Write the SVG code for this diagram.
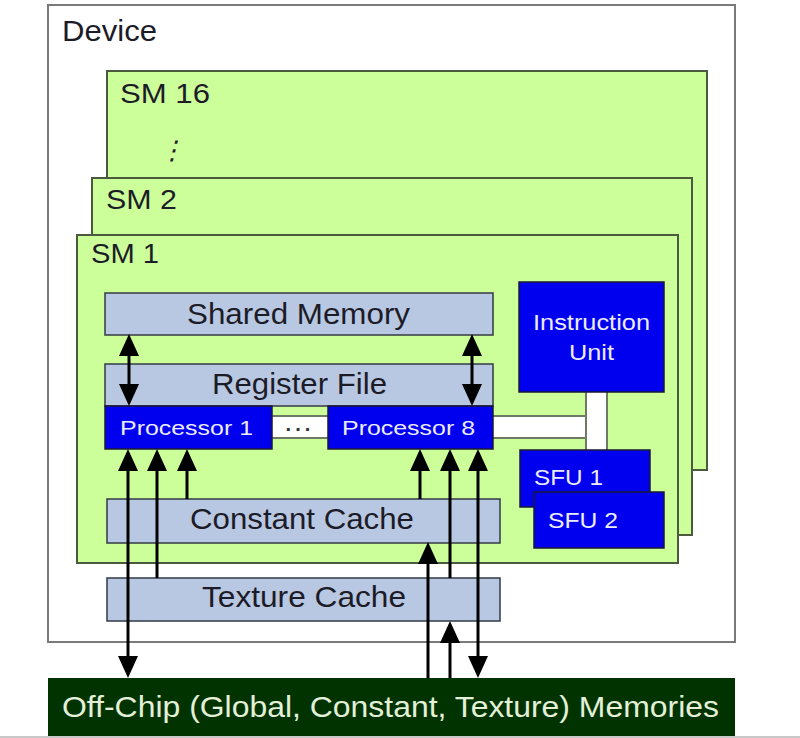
<svg xmlns="http://www.w3.org/2000/svg" width="800" height="738" viewBox="0 0 800 738">
  <defs>
    <style>
      .lbl { font-family: "Liberation Sans", Arial, sans-serif; fill: #1c1c28; }
      .wlbl { font-family: "Liberation Sans", Arial, sans-serif; fill: #ececff; }
      .device { fill: #ffffff; stroke: #7a7a7a; stroke-width: 2; }
      .sm { fill: #ccff99; stroke: #4b5a3e; stroke-width: 2; }
      .mem { fill: #b9c8e2; stroke: #333a44; stroke-width: 1.5; }
      .unit { fill: #0000ee; stroke: #1a1a33; stroke-width: 1.5; }
      .bus { fill: #ffffff; stroke: #6f7a66; stroke-width: 2; }
      .offchip { fill: #003300; }
      .conn { stroke: #000000; stroke-width: 3; fill: none; }
    </style>
    <marker id="head" viewBox="0 0 22 20" refX="17" refY="10" markerWidth="22" markerHeight="20" markerUnits="userSpaceOnUse" orient="auto-start-reverse">
      <path d="M0,0 L22,10 L0,20 Z" fill="#000000"/>
    </marker>
  </defs>

  <rect x="0" y="0" width="800" height="738" fill="#ffffff"/>
  <rect x="0" y="736" width="800" height="2" fill="#c8c8c8"/>

  <g id="device">
    <rect class="device" x="48" y="5" width="687" height="637"/>
    <text class="lbl" x="62" y="41" font-size="30" textLength="95" lengthAdjust="spacingAndGlyphs">Device</text>
  </g>

  <g id="sm16">
    <rect class="sm" x="107" y="71" width="600" height="399"/>
    <text class="lbl" x="120" y="103" font-size="27" textLength="90" lengthAdjust="spacingAndGlyphs">SM 16</text>
    <text class="lbl" transform="translate(172,159) skewX(-14)" x="0" y="0" font-size="26" text-anchor="middle" style="font-family: 'DejaVu Sans', sans-serif;">⋮</text>
  </g>

  <g id="sm2">
    <rect class="sm" x="92" y="178" width="600" height="357"/>
    <text class="lbl" x="106" y="209" font-size="27" textLength="71" lengthAdjust="spacingAndGlyphs">SM 2</text>
  </g>

  <g id="sm1">
    <rect class="sm" x="77" y="235" width="601" height="328"/>
    <text class="lbl" x="91" y="263" font-size="27" textLength="68" lengthAdjust="spacingAndGlyphs">SM 1</text>
  </g>

  <!-- bus from the processors to the instruction unit and SFUs -->
  <g id="bus">
    <rect class="bus" x="250" y="416" width="340" height="22"/>
    <rect class="bus" x="586" y="390" width="21" height="62"/>
    <rect x="587" y="417" width="3" height="20" fill="#ffffff"/>
    <text class="lbl" x="300" y="436" font-size="20" text-anchor="middle" letter-spacing="3" style="font-weight:bold; fill:#333333;">···</text>
  </g>

  <g id="shared-memory">
    <rect class="mem" x="105" y="293" width="388" height="42"/>
    <text class="lbl" x="187" y="324" font-size="30" textLength="223" lengthAdjust="spacingAndGlyphs">Shared Memory</text>
  </g>

  <g id="register-file">
    <rect class="mem" x="105" y="364" width="388" height="42"/>
    <text class="lbl" x="212" y="394" font-size="30" textLength="175" lengthAdjust="spacingAndGlyphs">Register File</text>
  </g>

  <g id="processor-1">
    <rect class="unit" x="105" y="406" width="167" height="43"/>
    <text class="wlbl" x="120" y="435" font-size="21" textLength="133" lengthAdjust="spacingAndGlyphs">Processor 1</text>
  </g>

  <g id="processor-8">
    <rect class="unit" x="328" y="406" width="165" height="43"/>
    <text class="wlbl" x="342" y="435" font-size="21" textLength="133" lengthAdjust="spacingAndGlyphs">Processor 8</text>
  </g>

  <g id="instruction-unit">
    <rect class="unit" x="519" y="282" width="145" height="110"/>
    <text class="wlbl" x="533" y="330" font-size="22" textLength="117" lengthAdjust="spacingAndGlyphs">Instruction</text>
    <text class="wlbl" x="569" y="360" font-size="22" textLength="45" lengthAdjust="spacingAndGlyphs">Unit</text>
  </g>

  <g id="sfu-1">
    <rect class="unit" x="520" y="450" width="130" height="57"/>
    <text class="wlbl" x="534" y="485" font-size="22" textLength="69" lengthAdjust="spacingAndGlyphs">SFU 1</text>
  </g>

  <g id="sfu-2">
    <rect class="unit" x="534" y="492" width="130" height="56"/>
    <text class="wlbl" x="548" y="528" font-size="22" textLength="70" lengthAdjust="spacingAndGlyphs">SFU 2</text>
  </g>

  <g id="constant-cache">
    <rect class="mem" x="107" y="499" width="393" height="44"/>
    <text class="lbl" x="190" y="529" font-size="30" textLength="224" lengthAdjust="spacingAndGlyphs">Constant Cache</text>
  </g>

  <g id="texture-cache">
    <rect class="mem" x="107" y="578" width="393" height="43"/>
    <text class="lbl" x="202" y="607" font-size="30" textLength="204" lengthAdjust="spacingAndGlyphs">Texture Cache</text>
  </g>

  <g id="off-chip-memories">
    <rect class="offchip" x="48" y="678" width="687" height="58"/>
    <text x="62" y="717" font-size="30" textLength="657" lengthAdjust="spacingAndGlyphs" style="font-family: 'Liberation Sans', Arial, sans-serif; fill: #e4f0d8;">Off-Chip (Global, Constant, Texture) Memories</text>
  </g>

  <g id="connectors">
    <!-- shared memory <-> register file -->
    <line class="conn" x1="129" y1="339" x2="129" y2="401" marker-start="url(#head)" marker-end="url(#head)"/>
    <line class="conn" x1="472" y1="339" x2="472" y2="401" marker-start="url(#head)" marker-end="url(#head)"/>
    <!-- processor 1 inputs -->
    <line class="conn" x1="128" y1="454" x2="128" y2="673" marker-start="url(#head)" marker-end="url(#head)"/>
    <line class="conn" x1="157" y1="578" x2="157" y2="454" marker-end="url(#head)"/>
    <line class="conn" x1="187" y1="499" x2="187" y2="454" marker-end="url(#head)"/>
    <!-- processor 8 inputs -->
    <line class="conn" x1="420" y1="499" x2="420" y2="454" marker-end="url(#head)"/>
    <line class="conn" x1="450" y1="578" x2="450" y2="454" marker-end="url(#head)"/>
    <line class="conn" x1="478" y1="454" x2="478" y2="673" marker-start="url(#head)" marker-end="url(#head)"/>
    <!-- off-chip memory to the caches -->
    <line class="conn" x1="428" y1="678" x2="428" y2="547" marker-end="url(#head)"/>
    <line class="conn" x1="450" y1="678" x2="450" y2="626" marker-end="url(#head)"/>
  </g>
</svg>
